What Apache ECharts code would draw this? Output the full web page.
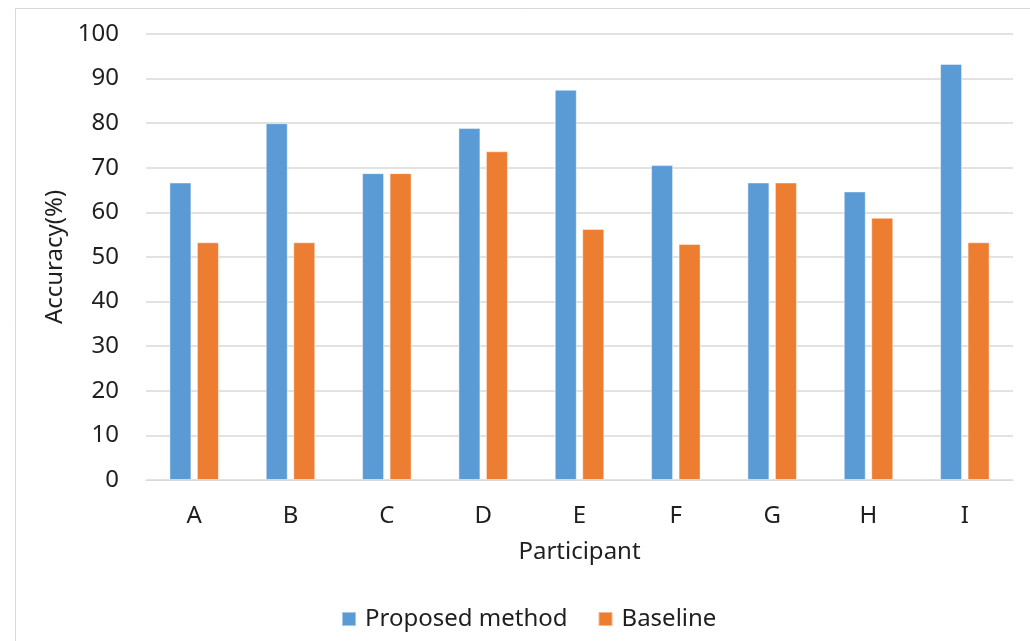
<!DOCTYPE html>
<html>
<head>
<meta charset="utf-8">
<script src="https://cdn.jsdelivr.net/npm/echarts@6/dist/echarts.min.js"></script>
<style>html,body{margin:0;padding:0;background:#fff;}#c{width:1030px;height:641px;}</style>
</head>
<body>
<div id="c"></div>
<script>
const categories = ['A','B','C','D','E','F','G','H','I'];
const proposed = [66.7, 80.0, 68.8, 78.9, 87.5, 70.6, 66.7, 64.7, 93.3];
const baseline = [53.3, 53.3, 68.8, 73.7, 56.3, 52.9, 66.7, 58.8, 53.3];
const yTicks = { min: 0, max: 100, interval: 10 };

const font = "'Noto Sans', 'Open Sans', sans-serif";
const chart = echarts.init(document.getElementById('c'), null, { renderer: 'canvas' });
chart.setOption({
  animation: false,
  backgroundColor: '#fff',
  textStyle: { fontFamily: font },
  graphic: [
    { type: 'line', shape: { x1: 15.5, y1: 8.5, x2: 1030, y2: 8.5 }, style: { stroke: '#d9d9d9', lineWidth: 1 } },
    { type: 'line', shape: { x1: 15.5, y1: 8.5, x2: 15.5, y2: 641 }, style: { stroke: '#d9d9d9', lineWidth: 1 } }
  ],
  grid: { left: 146, right: 17, top: 34, bottom: 161, containLabel: false },
  legend: {
    data: ['Proposed method', 'Baseline'],
    left: 336, top: 602,
    itemWidth: 14, itemHeight: 14, itemGap: 30,
    icon: 'rect',
    textStyle: { fontFamily: font, fontSize: 24, color: '#1f1f1f', padding: [0, 0, 0, 4] }
  },
  xAxis: {
    type: 'category',
    data: categories,
    name: 'Participant',
    nameLocation: 'middle',
    nameGap: 60,
    nameTextStyle: { fontFamily: font, fontSize: 24, color: '#1f1f1f' },
    axisLine: { show: true, lineStyle: { color: '#d9d9d9', width: 1 } },
    axisTick: { show: false },
    axisLabel: { fontFamily: font, fontSize: 24, color: '#1f1f1f', margin: 24 },
    splitLine: { show: false }
  },
  yAxis: {
    type: 'value',
    min: yTicks.min, max: yTicks.max, interval: yTicks.interval,
    name: 'Accuracy(%)',
    nameLocation: 'middle',
    nameRotate: 90,
    nameGap: 78,
    nameTextStyle: { fontFamily: font, fontSize: 24, color: '#1f1f1f' },
    axisLine: { show: false },
    axisTick: { show: false },
    axisLabel: { fontFamily: font, fontSize: 24, color: '#1f1f1f', margin: 27 },
    splitLine: { show: true, lineStyle: { color: '#d9d9d9', width: 1.5 } }
  },
  series: [
    {
      name: 'Proposed method', type: 'bar', data: proposed,
      barWidth: 22, barGap: '25%',
      itemStyle: { color: '#5B9BD5', borderColor: 'rgba(255,255,255,0.45)', borderWidth: 1 }
    },
    {
      name: 'Baseline', type: 'bar', data: baseline,
      barWidth: 22,
      itemStyle: { color: '#ED7D31', borderColor: 'rgba(255,255,255,0.45)', borderWidth: 1 }
    }
  ]
});
</script>
</body>
</html>
